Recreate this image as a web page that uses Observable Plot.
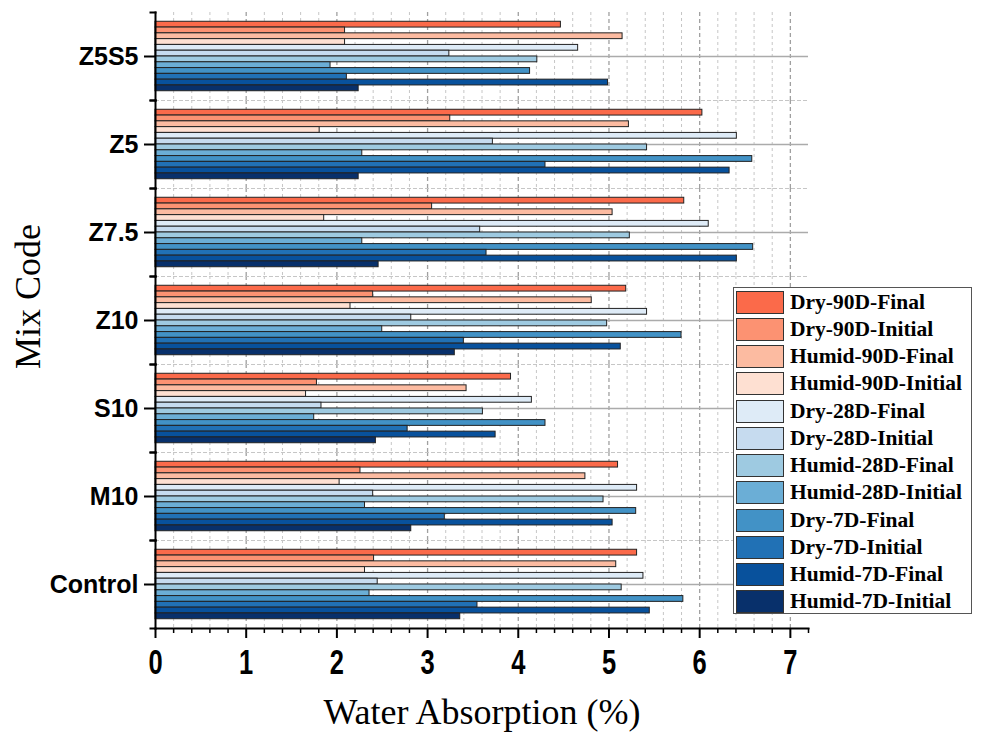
<!DOCTYPE html>
<html>
<head>
<meta charset="utf-8">
<script src="https://cdn.jsdelivr.net/npm/d3@7"></script>
<script src="https://cdn.jsdelivr.net/npm/@observablehq/plot@0.6"></script>
<style>
  body { margin: 0; background: #fff; }
  #wrap { position: relative; width: 981px; height: 732px; overflow: hidden; }
  #legend { position: absolute; left: 733px; top: 287px; width: 239px; height: 327px;
            border: 1px solid #555; background: #fff; box-sizing: border-box; }
  .row { position: absolute; left: 2px; height: 23px; display: flex; align-items: center; }
  .sw { width: 48px; height: 23px; border: 1.5px solid #333; box-sizing: border-box; }
  .lab { margin-left: 6px; font: bold 21.5px "Liberation Serif", serif; color: #000; white-space: nowrap; }
  g[aria-label="x-axis label"] text, g[aria-label="fy-axis label"] text {
    font-family: "Liberation Serif", serif; font-size: 36px; font-weight: normal;
  }
</style>
</head>
<body>
<div id="wrap"></div>
<script>
// ---- data ----
const mixCodes = ["Z5S5", "Z5", "Z7.5", "Z10", "S10", "M10", "Control"];
const seriesNames = [
  "Dry-90D-Final", "Dry-90D-Initial", "Humid-90D-Final", "Humid-90D-Initial",
  "Dry-28D-Final", "Dry-28D-Initial", "Humid-28D-Final", "Humid-28D-Initial",
  "Dry-7D-Final", "Dry-7D-Initial", "Humid-7D-Final", "Humid-7D-Initial"
];
const seriesColors = [
  "#fb6a4a", "#fc9272", "#fcbba1", "#fee0d2",
  "#deebf7", "#c6dbef", "#9ecae1", "#6baed6",
  "#4292c6", "#2171b5", "#08519c", "#08306b"
];
// values in seriesNames order
const z5s5    = [4.47, 2.09, 5.15, 2.09, 4.66, 3.24, 4.21, 1.93, 4.13, 2.11, 4.99, 2.24];
const z5      = [6.03, 3.25, 5.22, 1.81, 6.41, 3.72, 5.42, 2.28, 6.58, 4.30, 6.33, 2.24];
const z75     = [5.83, 3.05, 5.04, 1.86, 6.10, 3.58, 5.23, 2.28, 6.59, 3.65, 6.41, 2.46];
const z10     = [5.19, 2.40, 4.81, 2.15, 5.42, 2.82, 4.98, 2.50, 5.80, 3.40, 5.13, 3.30];
const s10     = [3.92, 1.78, 3.43, 1.66, 4.15, 1.83, 3.61, 1.75, 4.30, 2.78, 3.75, 2.43];
const m10     = [5.10, 2.26, 4.74, 2.03, 5.31, 2.40, 4.94, 2.31, 5.30, 3.19, 5.04, 2.82];
const control = [5.31, 2.41, 5.08, 2.31, 5.38, 2.45, 5.14, 2.36, 5.82, 3.55, 5.45, 3.36];
const xTicks = [0, 1, 2, 3, 4, 5, 6, 7];
const xMinorTicks = [0.2, 0.4, 0.6, 0.8, 1.2, 1.4, 1.6, 1.8, 2.2, 2.4, 2.6, 2.8, 3.2, 3.4, 3.6, 3.8,
                     4.2, 4.4, 4.6, 4.8, 5.2, 5.4, 5.6, 5.8, 6.2, 6.4, 6.6, 6.8, 7.2];
const xGridMinor = xMinorTicks.filter(d => d < 7.1);
const xGridMajor = [1, 2, 3, 4, 5, 6, 7];

const valueArrays = [z5s5, z5, z75, z10, s10, m10, control];
const data = mixCodes.flatMap((m, j) =>
  seriesNames.map((s, i) => ({mix: m, series: s, value: valueArrays[j][i]})));

// ---- chart ----
const chart = Plot.plot({
  width: 981,
  height: 732,
  marginLeft: 155,
  marginRight: 173,
  marginTop: 12,
  marginBottom: 104,
  style: {fontFamily: "Liberation Sans, Arial, sans-serif", background: "white", overflow: "visible", color: "#000"},
  x: {domain: [0, 7.2]},
  y: {domain: seriesNames, paddingInner: 0, paddingOuter: 1.6, round: false, axis: null},
  fy: {domain: mixCodes, padding: 0, round: false, axis: null},
  color: {domain: seriesNames, range: seriesColors},
  marks: [
    Plot.gridX({ticks: xGridMinor, stroke: "#c6c6c6", strokeOpacity: 1, strokeDasharray: "3,3", strokeWidth: 1}),
    Plot.gridX({ticks: xGridMajor, stroke: "#a0a0a0", strokeOpacity: 1, strokeDasharray: "4,3", strokeWidth: 1.3}),
    Plot.frame({anchor: "bottom", stroke: "#c6c6c6", strokeDasharray: "3,3", strokeWidth: 1}),
    Plot.gridFy({stroke: "#ababab", strokeOpacity: 1, strokeWidth: 1.5}),
    Plot.barX(data, {x: "value", y: "series", fy: "mix", fill: "series", stroke: "#222", strokeWidth: 1}),
    Plot.frame({anchor: "left", stroke: "#000", strokeWidth: 2}),
    Plot.frame({anchor: "top", stroke: "#000", strokeWidth: 2, insetLeft: -5, insetRight: 653}),
    Plot.frame({anchor: "bottom", stroke: "#000", strokeWidth: 2, insetLeft: -5, insetRight: 653}),
    Plot.frame({anchor: "bottom", facetAnchor: "bottom", stroke: "#000", strokeWidth: 2}),
    Plot.axisX({ticks: xMinorTicks, tickSize: 5, strokeWidth: 1.5, tickFormat: () => "", label: null}),
    Plot.axisX({ticks: xTicks, tickSize: 10, strokeWidth: 2, tickPadding: 10, fontSize: 30, fontWeight: "bold",
                tickFormat: d => String(d), label: "Water Absorption (%)", labelAnchor: "center",
                labelOffset: 95, labelArrow: "none"}),
    Plot.axisFy({anchor: "left", tickSize: 11, tickPadding: 6, strokeWidth: 2, fontSize: 25, fontWeight: "bold",
                 label: "Mix Code", labelAnchor: "center", labelOffset: 141})
  ]
});
document.getElementById("wrap").appendChild(chart);

// condensed look of x tick labels
d3.select(chart).selectAll('g[aria-label="x-axis tick label"] text').each(function() {
  const t = this.getAttribute("transform") || "";
  this.setAttribute("transform", t + " scale(0.85,1.18)");
});
// the reference's y-axis title sits a little above the frame's middle
d3.select(chart).selectAll('g[aria-label="fy-axis label"]').each(function() {
  const t = this.getAttribute("transform") || "";
  this.setAttribute("transform", t + " translate(0,-24)");
});

// ---- legend ----
const legend = document.createElement("div");
legend.id = "legend";
seriesNames.forEach((s, i) => {
  const row = document.createElement("div");
  row.className = "row";
  row.style.top = (2.5 + i * 27.27) + "px";
  const sw = document.createElement("div");
  sw.className = "sw";
  sw.style.background = seriesColors[i];
  const lab = document.createElement("span");
  lab.className = "lab";
  lab.textContent = s;
  row.appendChild(sw);
  row.appendChild(lab);
  legend.appendChild(row);
});
document.getElementById("wrap").appendChild(legend);
</script>
</body>
</html>
